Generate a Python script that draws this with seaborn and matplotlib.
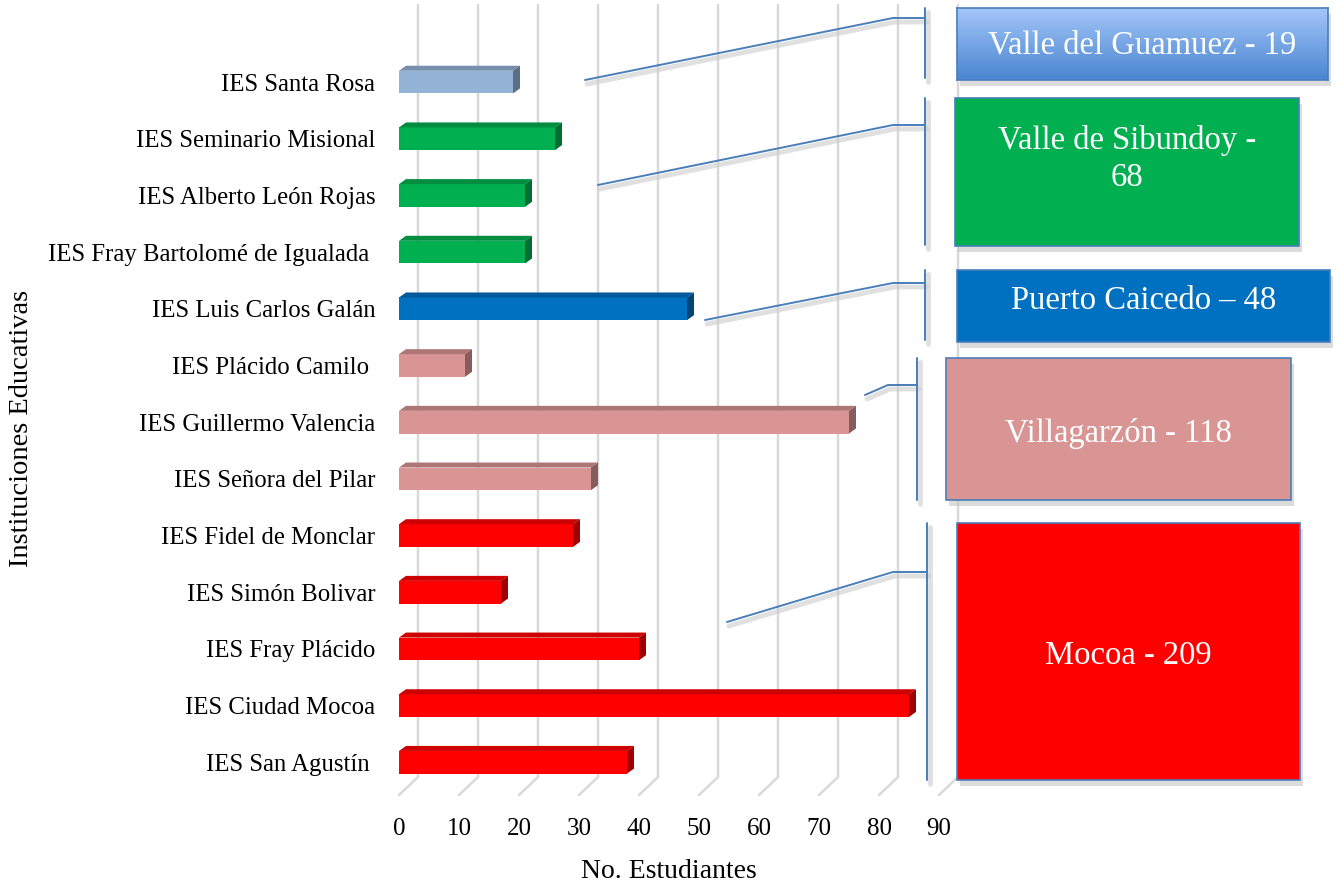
import numpy as np
import pandas as pd
import seaborn as sns
import matplotlib.pyplot as plt
import matplotlib.colors as mcolors
from matplotlib.patches import Polygon, Rectangle
from matplotlib.lines import Line2D
from matplotlib.transforms import IdentityTransform

# Datos del grafico
instituciones = ["IES Santa Rosa", "IES Seminario Misional", "IES Alberto León Rojas",
                 "IES Fray Bartolomé de Igualada ", "IES Luis Carlos Galán", "IES Plácido Camilo ",
                 "IES Guillermo Valencia", "IES Señora del Pilar", "IES Fidel de Monclar",
                 "IES Simón Bolivar", "IES Fray Plácido", "IES Ciudad Mocoa", "IES San Agustín "]
estudiantes = [19, 26, 21, 21, 48, 11, 75, 32, 29, 17, 40, 85, 38]
municipio = ["Valle del Guamuez", "Valle de Sibundoy", "Valle de Sibundoy", "Valle de Sibundoy",
             "Puerto Caicedo", "Villagarzón", "Villagarzón", "Villagarzón",
             "Mocoa", "Mocoa", "Mocoa", "Mocoa", "Mocoa"]

municipios = ["Valle del Guamuez", "Valle de Sibundoy", "Puerto Caicedo", "Villagarzón", "Mocoa"]
etiquetas = ["Valle del Guamuez - 19", "Valle de Sibundoy -\n68", "Puerto Caicedo – 48",
             "Villagarzón - 118", "Mocoa - 209"]
colores = {"Valle del Guamuez": "#95b3d7", "Valle de Sibundoy": "#00b050",
           "Puerto Caicedo": "#0070c0", "Villagarzón": "#d99594", "Mocoa": "#ff0000"}

sns.set_style("white")
plt.rcParams['font.family'] = ['Liberation Serif', 'DejaVu Serif']
plt.rcParams['text.color'] = 'black'
plt.rcParams['axes.labelcolor'] = 'black'
plt.rcParams['xtick.color'] = 'black'
plt.rcParams['ytick.color'] = 'black'

W, H = 1339, 882
fig = plt.figure(figsize=(W / 100, H / 100), dpi=100)


def px(x, y):
    # pixeles (desde arriba) -> fraccion de figura
    return x / W, 1 - y / H


ax = fig.add_axes([399 / W, 1 - 777 / H, 540 / W, 772 / H])
ax.patch.set_visible(False)

df = pd.DataFrame({"institucion": instituciones, "estudiantes": estudiantes, "municipio": municipio})
sns.barplot(data=df, x="estudiantes", y="institucion", hue="municipio", palette=colores,
            dodge=False, width=0.4, legend=False, ax=ax, zorder=3, linewidth=0, saturation=1)

ax.set_xlim(0, 90)
ax.set_ylim(12.26, -1.36)
ax.set_xticks(range(0, 91, 10))
for s in ax.spines.values():
    s.set_visible(False)
ax.tick_params(axis="x", length=0, pad=29.5, labelsize=18)
ax.tick_params(axis="y", length=0, pad=17, labelsize=17.8)
ax.set_xlabel("No. Estudiantes", fontsize=20, labelpad=14)
ax.set_ylabel("")
fig.text(*px(22, 428), "Instituciones Educativas", rotation=90, ha="center", va="center", fontsize=20.5)

# lineas de fondo (efecto 3D)
ident = IdentityTransform()
for v in ax.get_xticks():
    xd = ax.transData.transform((v, 0))[0]
    ax.add_artist(Line2D([xd + 19, xd + 19, xd], [H - 5, H - 777, H - 795], color="#d9d9d9",
                         lw=1.8, transform=ident, clip_on=False, zorder=1))

# caras superior y lateral de las barras
dx, dy = 7, 5
for p in ax.patches:
    x0, y0 = p.get_x(), p.get_y()
    x1, y1 = x0 + p.get_width(), y0 + p.get_height()
    (a, b), (c, d) = ax.transData.transform([(x0, y0), (x1, y1)])
    top, bot = max(b, d), min(b, d)
    base = np.array(mcolors.to_rgb(p.get_facecolor()))
    ax.add_artist(Polygon([(a, top), (c, top), (c + dx, top + dy), (a + dx, top + dy)], closed=True,
                          facecolor=base * 0.8, edgecolor="none", transform=ident, zorder=4))
    ax.add_artist(Polygon([(c, bot), (c, top), (c + dx, top + dy), (c + dx, bot + dy)], closed=True,
                          facecolor=base * 0.62, edgecolor="none", transform=ident, zorder=4))

# cajas de municipios
cajas = [(957, 8, 1328, 80), (955, 98, 1299, 246), (957, 270, 1330, 342),
         (946, 358, 1291, 500), (957, 523, 1300, 780)]
texto_y = [45, 159, 301, 433, 656]
lineas = [[(585, 80), (893, 18), (925, 18)], [(598, 185), (893, 125), (925, 125)],
          [(705, 320), (893, 283), (925, 283)], [(865, 395), (888, 385), (917, 385)],
          [(727, 622), (893, 572), (927, 572)]]
corchetes = [(925, 8, 78), (925, 98, 245), (925, 270, 340), (917, 358, 500), (927, 523, 780)]

for i, m in enumerate(municipios):
    x0, y0, x1, y1 = cajas[i]
    # sombra
    sx, sy = px(x0 + 3, y1 + 6)
    fig.add_artist(Rectangle((sx, sy), (x1 - x0) / W, (y1 - y0) / H, transform=fig.transFigure,
                             facecolor="#bbbbbb", alpha=0.5, edgecolor="none", zorder=5))
    bx, by = px(x0, y1)
    if i == 0:
        bax = fig.add_axes([bx, by, (x1 - x0) / W, (y1 - y0) / H], zorder=6)
        grad = np.linspace(0, 1, 100)[:, None]
        cmap = mcolors.LinearSegmentedColormap.from_list("g", ["#a3c6f8", "#4a85d1"])
        bax.imshow(grad, aspect="auto", cmap=cmap, extent=[0, 1, 0, 1], origin="upper")
        bax.set_xticks([]); bax.set_yticks([])
        for s in bax.spines.values():
            s.set_color("#4a7ebb"); s.set_linewidth(1.2)
    else:
        fig.add_artist(Rectangle((bx, by), (x1 - x0) / W, (y1 - y0) / H, transform=fig.transFigure,
                                 facecolor=colores[m], edgecolor="#4a7ebb", lw=1.2, zorder=6))
    fig.text(*px((x0 + x1) / 2, texto_y[i]), etiquetas[i], ha="center", va="center",
             color="white", fontsize=23.5, zorder=8, linespacing=1.25)

    # lineas guia
    pts = np.array([px(x, y) for x, y in lineas[i]])
    fig.add_artist(Line2D(pts[:, 0] + 2 / W, pts[:, 1] - 4 / H, color="#cccccc", lw=3.5, alpha=0.6,
                          transform=fig.transFigure, zorder=5))
    fig.add_artist(Line2D(pts[:, 0], pts[:, 1], color="#4a7ebb", lw=1.4,
                          transform=fig.transFigure, zorder=7))
    cx, ct, cb = corchetes[i]
    fig.add_artist(Line2D([(cx + 3) / W] * 2, [1 - (ct + 4) / H, 1 - (cb + 4) / H], color="#cccccc",
                          lw=3.5, alpha=0.6, transform=fig.transFigure, zorder=5))
    fig.add_artist(Line2D([cx / W] * 2, [1 - ct / H, 1 - cb / H], color="#4a7ebb", lw=1.4,
                          transform=fig.transFigure, zorder=7))

fig.savefig("out.png", dpi=100)
